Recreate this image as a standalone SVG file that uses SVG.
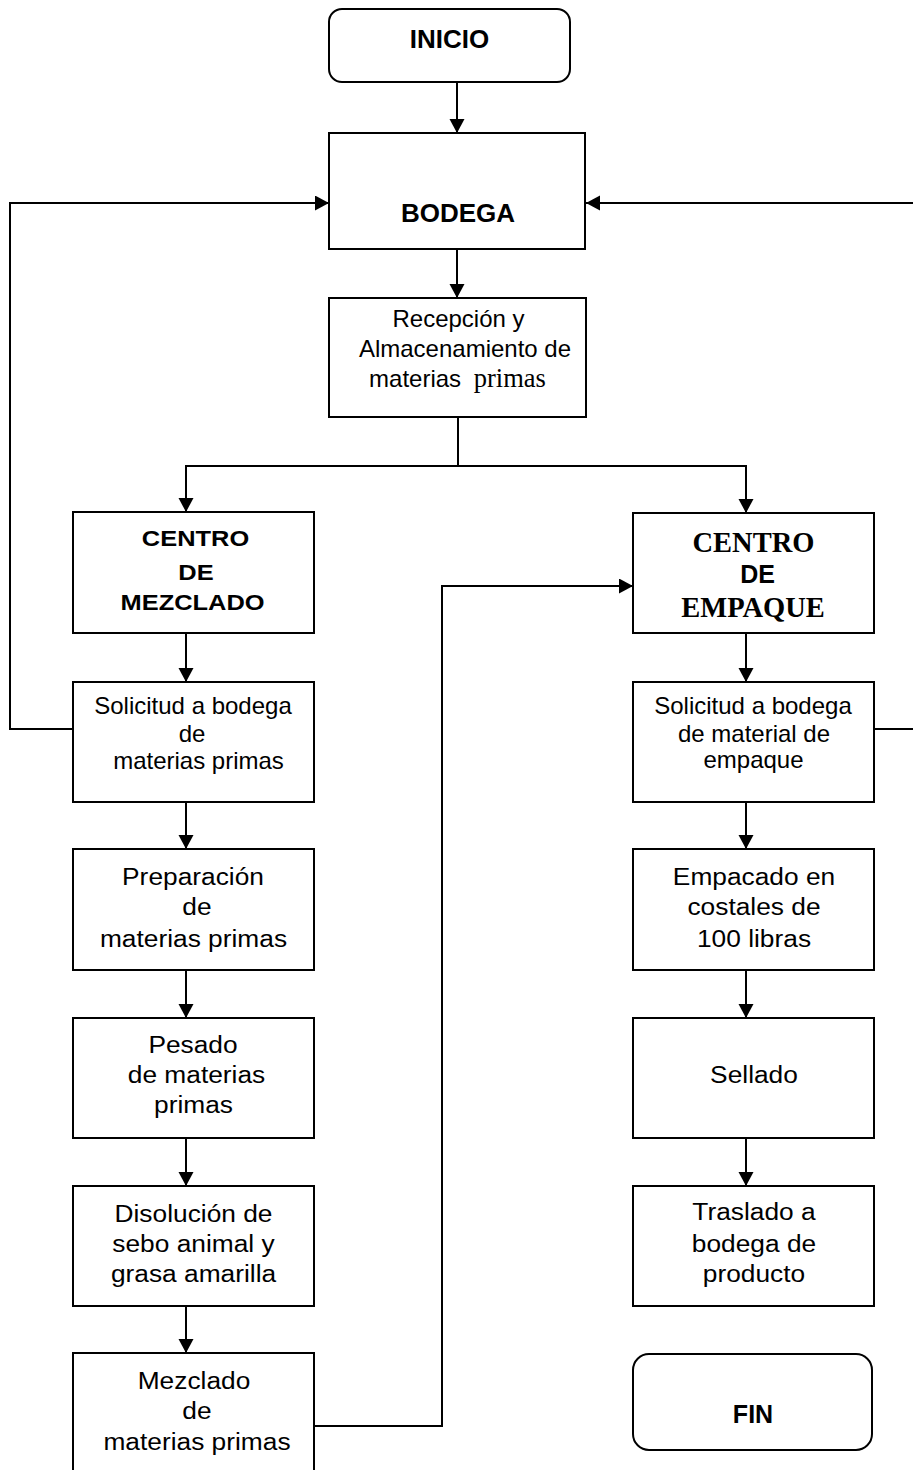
<svg xmlns="http://www.w3.org/2000/svg" width="913" height="1470" viewBox="0 0 913 1470">
<style>
.box{fill:#fff;stroke:#000;stroke-width:2}
.ln{fill:none;stroke:#000;stroke-width:2}
text{font-family:"Liberation Sans",Arial,sans-serif;fill:#000;text-anchor:middle}
.b{font-weight:bold;font-size:26px}
.bm{font-weight:bold;font-size:22.5px}
.r{font-size:24px}
.s{font-size:23.5px}
.tb{font-family:"Liberation Serif","Times New Roman",serif;font-weight:bold;font-size:28.5px}
.tr{font-family:"Liberation Serif","Times New Roman",serif;font-size:26.5px}
</style>
<defs>
<marker id="ah" markerUnits="userSpaceOnUse" markerWidth="15" markerHeight="16" refX="14" refY="7.5" orient="auto">
<path d="M0,0 L14,7.5 L0,15 z" fill="#000"/>
</marker>
</defs>
<g id="connectors">
<path class="ln" d="M457,82 V133" marker-end="url(#ah)"/>
<path class="ln" d="M457,249 V298" marker-end="url(#ah)"/>
<path class="ln" d="M458,417 V466 H186 V512" marker-end="url(#ah)"/>
<path class="ln" d="M458,466 H746 V513" marker-end="url(#ah)"/>
<path class="ln" d="M73,729 H10 V203 H329" marker-end="url(#ah)"/>
<path class="ln" d="M874,729 H916 V203 H586" marker-end="url(#ah)"/>
<path class="ln" d="M314,1426 H442 V586 H633" marker-end="url(#ah)"/>
<path class="ln" d="M186,633 V682" marker-end="url(#ah)"/>
<path class="ln" d="M186,802 V849" marker-end="url(#ah)"/>
<path class="ln" d="M186,970 V1018" marker-end="url(#ah)"/>
<path class="ln" d="M186,1138 V1186" marker-end="url(#ah)"/>
<path class="ln" d="M186,1306 V1353" marker-end="url(#ah)"/>
<path class="ln" d="M746,633 V682" marker-end="url(#ah)"/>
<path class="ln" d="M746,802 V849" marker-end="url(#ah)"/>
<path class="ln" d="M746,970 V1018" marker-end="url(#ah)"/>
<path class="ln" d="M746,1138 V1186" marker-end="url(#ah)"/>
</g>
<g id="inicio">
<rect class="box" x="329" y="9" width="241" height="73" rx="13"/>
<text class="b" x="449.5" y="48">INICIO</text>
</g>
<g id="bodega">
<rect class="box" x="329" y="133" width="256" height="116"/>
<text class="b" x="458" y="222">BODEGA</text>
</g>
<g id="recepcion">
<rect class="box" x="329" y="298" width="257" height="119"/>
<text class="r" x="458.5" y="327">Recepción y</text>
<text class="r" x="465" y="357">Almacenamiento de</text>
<text class="r" x="457.5" y="387">materias <tspan dx="6" class="tr">primas</tspan></text>
</g>
<g id="centro-mezclado">
<rect class="box" x="73" y="512" width="241" height="121"/>
<text class="bm" transform="translate(195.5 0) scale(1.13 1)" x="0" y="546">CENTRO</text>
<text class="bm" transform="translate(196 0) scale(1.13 1)" x="0" y="580">DE</text>
<text class="bm" transform="translate(192.5 0) scale(1.13 1)" x="0" y="610">MEZCLADO</text>
</g>
<g id="centro-empaque">
<rect class="box" x="633" y="513" width="241" height="120"/>
<text class="tb" x="753.5" y="552">CENTRO</text>
<text class="b" style="font-size:25px" x="757.5" y="583">DE</text>
<text class="tb" x="753" y="617">EMPAQUE</text>
</g>
<g id="solicitud-mp">
<rect class="box" x="73" y="682" width="241" height="120"/>
<text class="r" x="193" y="714">Solicitud a bodega</text>
<text class="r" x="192" y="742">de</text>
<text class="r" x="198.5" y="769">materias primas</text>
</g>
<g id="solicitud-empaque">
<rect class="box" x="633" y="682" width="241" height="120"/>
<text class="r" x="753" y="714">Solicitud a bodega</text>
<text class="r" x="754" y="742">de material de</text>
<text class="r" x="753.5" y="768">empaque</text>
</g>
<g id="preparacion">
<rect class="box" x="73" y="849" width="241" height="121"/>
<text class="s" transform="translate(193 0) scale(1.12 1)" x="0" y="885">Preparación</text>
<text class="s" transform="translate(197 0) scale(1.12 1)" x="0" y="915">de</text>
<text class="s" transform="translate(193.5 0) scale(1.12 1)" x="0" y="947">materias primas</text>
</g>
<g id="pesado">
<rect class="box" x="73" y="1018" width="241" height="120"/>
<text class="s" transform="translate(193 0) scale(1.12 1)" x="0" y="1053">Pesado</text>
<text class="s" transform="translate(196.5 0) scale(1.12 1)" x="0" y="1083">de materias</text>
<text class="s" transform="translate(193.5 0) scale(1.12 1)" x="0" y="1113">primas</text>
</g>
<g id="disolucion">
<rect class="box" x="73" y="1186" width="241" height="120"/>
<text class="s" transform="translate(193.5 0) scale(1.12 1)" x="0" y="1222">Disolución de</text>
<text class="s" transform="translate(193.5 0) scale(1.12 1)" x="0" y="1252">sebo animal y</text>
<text class="s" transform="translate(193.5 0) scale(1.12 1)" x="0" y="1282">grasa amarilla</text>
</g>
<g id="mezclado">
<rect class="box" x="73" y="1353" width="241" height="125"/>
<text class="s" transform="translate(194 0) scale(1.12 1)" x="0" y="1389">Mezclado</text>
<text class="s" transform="translate(197 0) scale(1.12 1)" x="0" y="1419">de</text>
<text class="s" transform="translate(197 0) scale(1.12 1)" x="0" y="1450">materias primas</text>
</g>
<g id="empacado">
<rect class="box" x="633" y="849" width="241" height="121"/>
<text class="s" transform="translate(754 0) scale(1.12 1)" x="0" y="885">Empacado en</text>
<text class="s" transform="translate(754 0) scale(1.12 1)" x="0" y="915">costales de</text>
<text class="s" transform="translate(754 0) scale(1.12 1)" x="0" y="947">100 libras</text>
</g>
<g id="sellado">
<rect class="box" x="633" y="1018" width="241" height="120"/>
<text class="s" transform="translate(754 0) scale(1.12 1)" x="0" y="1083">Sellado</text>
</g>
<g id="traslado">
<rect class="box" x="633" y="1186" width="241" height="120"/>
<text class="s" transform="translate(754 0) scale(1.12 1)" x="0" y="1220">Traslado a</text>
<text class="s" transform="translate(754 0) scale(1.12 1)" x="0" y="1252">bodega de</text>
<text class="s" transform="translate(754 0) scale(1.12 1)" x="0" y="1282">producto</text>
</g>
<g id="fin">
<rect class="box" x="633" y="1354" width="239" height="96" rx="16"/>
<text class="b" style="font-size:25px" x="753" y="1423">FIN</text>
</g>
</svg>
